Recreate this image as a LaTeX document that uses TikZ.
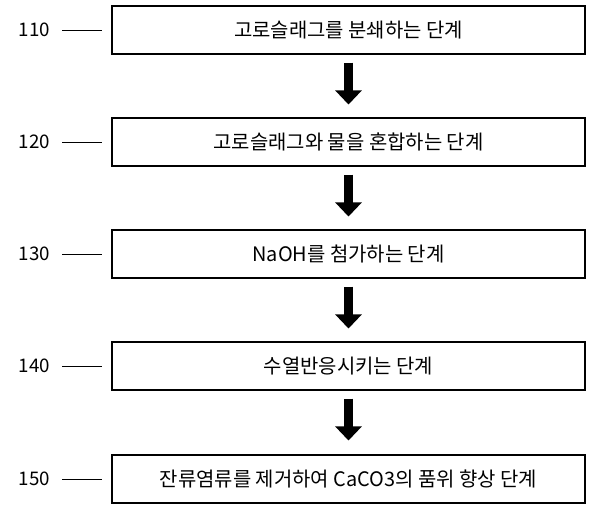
\documentclass[tikz,border=0pt]{standalone}
\usepackage{fontspec}
\setmainfont{Noto Sans CJK KR}
\usetikzlibrary{arrows.meta}
\tikzset{
  stepbox/.style={draw,line width=0.9pt,minimum width=473*0.03cm,minimum height=48*0.03cm,
    font=\fontsize{17}{20}\selectfont},
  reflabel/.style={anchor=east,font=\fontsize{16}{18}\selectfont},
  flowarrow/.style={line width=7pt,-{Triangle[length=12pt,width=22pt]}},
}
\begin{document}
\begin{tikzpicture}[x=0.03cm,y=-0.03cm]
        \useasboundingbox (0,0) rectangle (600,508);
        \node[stepbox] (s110) at (348.5,30) {고로슬래그를 분쇄하는 단계};
        \node[stepbox] (s120) at (348.5,142) {고로슬래그와 물을 혼합하는 단계};
        \node[stepbox] (s130) at (348.5,254) {NaOH를 첨가하는 단계};
        \node[stepbox] (s140) at (348.5,366) {수열반응시키는 단계};
        \node[stepbox] (s150) at (348.5,479) {잔류염류를 제거하여 CaCO3의 품위 향상 단계};

        \foreach \n in {110,120,130,140,150}{
          \node[reflabel] (l\n) at (54,0 |- s\n) {\n};
          \coordinate (t\n) at (102,0 |- s\n);
          \draw[line width=0.8pt] (l\n.east) ++(8,0) -- (t\n);
        }

        \draw[flowarrow] (s110.south) ++(0,8) -- ++(0,42);
        \draw[flowarrow] (s120.south) ++(0,8) -- ++(0,42);
        \draw[flowarrow] (s130.south) ++(0,8) -- ++(0,42);
        \draw[flowarrow] (s140.south) ++(0,8) -- ++(0,42);
\end{tikzpicture}
\end{document}
